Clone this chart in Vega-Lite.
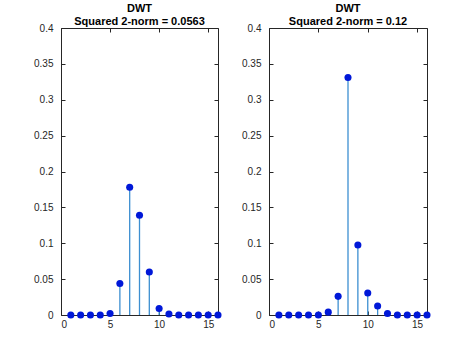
{
  "$schema": "https://vega.github.io/schema/vega-lite/v6.json",
  "padding": {"left": 33, "top": 2, "right": 5, "bottom": 5},
  "background": "white",
  "spacing": 51,
  "bounds": "flush",
  "config": {
    "font": "Liberation Sans",
    "view": {"stroke": "#262626", "strokeWidth": 1},
    "axis": {
      "grid": false,
      "domain": false,
      "tickColor": "#262626",
      "tickSize": -4,
      "labelColor": "#262626",
      "labelFontSize": 10,
      "labelFont": "Liberation Sans",
      "title": null
    },
    "axisLeft": {"labelPadding": 12},
    "axisBottom": {"labelPadding": 8},
    "title": {"fontSize": 11, "fontWeight": "bold", "color": "#000000", "font": "Liberation Sans", "offset": -4, "lineHeight": 13}
  },
  "datasets": {
    "dwt": [
      {"panel": "A", "n": 1, "value": 0.0},
      {"panel": "A", "n": 2, "value": 0.0},
      {"panel": "A", "n": 3, "value": 0.0},
      {"panel": "A", "n": 4, "value": 0.0},
      {"panel": "A", "n": 5, "value": 0.002},
      {"panel": "A", "n": 6, "value": 0.044},
      {"panel": "A", "n": 7, "value": 0.178},
      {"panel": "A", "n": 8, "value": 0.139},
      {"panel": "A", "n": 9, "value": 0.060},
      {"panel": "A", "n": 10, "value": 0.009},
      {"panel": "A", "n": 11, "value": 0.0015},
      {"panel": "A", "n": 12, "value": 0.0},
      {"panel": "A", "n": 13, "value": 0.0},
      {"panel": "A", "n": 14, "value": 0.0},
      {"panel": "A", "n": 15, "value": 0.0},
      {"panel": "A", "n": 16, "value": 0.0},
      {"panel": "B", "n": 1, "value": 0.0},
      {"panel": "B", "n": 2, "value": 0.0},
      {"panel": "B", "n": 3, "value": 0.0},
      {"panel": "B", "n": 4, "value": 0.0},
      {"panel": "B", "n": 5, "value": 0.0},
      {"panel": "B", "n": 6, "value": 0.004},
      {"panel": "B", "n": 7, "value": 0.026},
      {"panel": "B", "n": 8, "value": 0.331},
      {"panel": "B", "n": 9, "value": 0.0976},
      {"panel": "B", "n": 10, "value": 0.0307},
      {"panel": "B", "n": 11, "value": 0.0125},
      {"panel": "B", "n": 12, "value": 0.002},
      {"panel": "B", "n": 13, "value": 0.0},
      {"panel": "B", "n": 14, "value": 0.0},
      {"panel": "B", "n": 15, "value": 0.0},
      {"panel": "B", "n": 16, "value": 0.0}
    ]
  },
  "hconcat": [
    {
      "width": 157,
      "height": 287,
      "title": {"text": ["DWT", "Squared 2-norm = 0.0563"]},
      "data": {"name": "dwt"},
      "transform": [{"filter": "datum.panel === 'A'"}],
      "layer": [
        {
          "mark": {"type": "rule", "color": "#3d8fd1", "strokeWidth": 1.3},
          "encoding": {
            "x": {"field": "n", "type": "quantitative", "scale": {"domain": [0, 16], "nice": false}, "axis": {"orient": "bottom", "values": [0, 5, 10, 15]}},
            "y": {"field": "value", "type": "quantitative", "scale": {"domain": [0, 0.4], "nice": false}, "axis": {"orient": "left", "values": [0, 0.05, 0.1, 0.15, 0.2, 0.25, 0.3, 0.35, 0.4], "format": "~g"}},
            "y2": {"datum": 0}
          }
        },
        {
          "mark": {"type": "point", "filled": true, "color": "#0018d8", "opacity": 1, "size": 50},
          "encoding": {
            "x": {"field": "n", "type": "quantitative", "axis": {"orient": "top", "values": [0, 5, 10, 15], "labels": false}},
            "y": {"field": "value", "type": "quantitative", "axis": {"orient": "right", "values": [0, 0.05, 0.1, 0.15, 0.2, 0.25, 0.3, 0.35, 0.4], "labels": false}}
          }
        }
      ]
    },
    {
      "width": 158,
      "height": 287,
      "title": {"text": ["DWT", "Squared 2-norm = 0.12"]},
      "data": {"name": "dwt"},
      "transform": [{"filter": "datum.panel === 'B'"}],
      "layer": [
        {
          "mark": {"type": "rule", "color": "#3d8fd1", "strokeWidth": 1.3},
          "encoding": {
            "x": {"field": "n", "type": "quantitative", "scale": {"domain": [0, 16], "nice": false}, "axis": {"orient": "bottom", "values": [0, 5, 10, 15]}},
            "y": {"field": "value", "type": "quantitative", "scale": {"domain": [0, 0.4], "nice": false}, "axis": {"orient": "left", "values": [0, 0.05, 0.1, 0.15, 0.2, 0.25, 0.3, 0.35, 0.4], "format": "~g"}},
            "y2": {"datum": 0}
          }
        },
        {
          "mark": {"type": "point", "filled": true, "color": "#0018d8", "opacity": 1, "size": 50},
          "encoding": {
            "x": {"field": "n", "type": "quantitative", "axis": {"orient": "top", "values": [0, 5, 10, 15], "labels": false}},
            "y": {"field": "value", "type": "quantitative", "axis": {"orient": "right", "values": [0, 0.05, 0.1, 0.15, 0.2, 0.25, 0.3, 0.35, 0.4], "labels": false}}
          }
        }
      ]
    }
  ]
}
